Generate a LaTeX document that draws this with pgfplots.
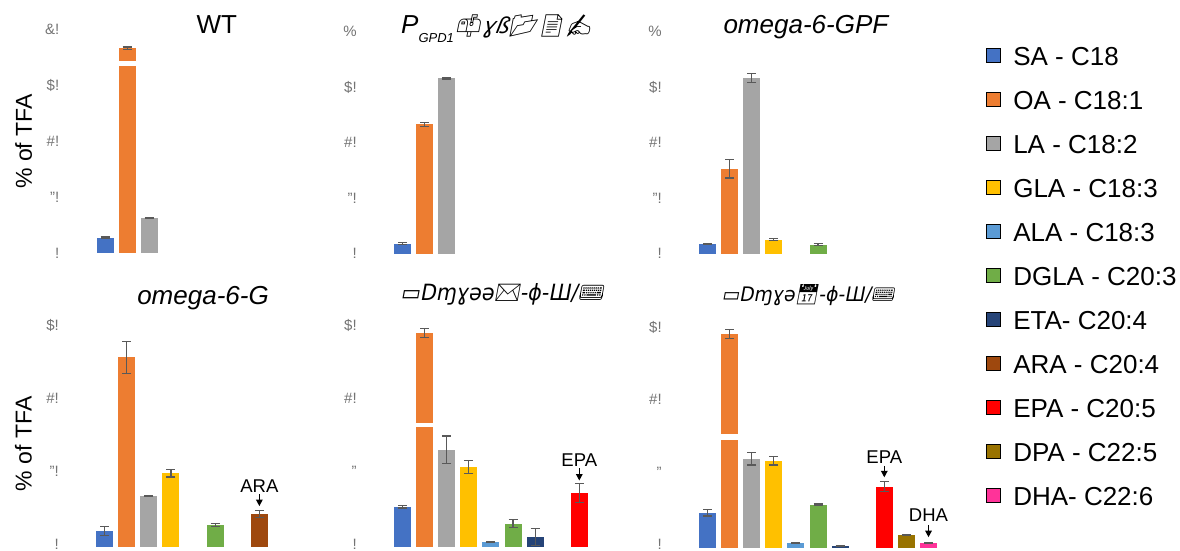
\documentclass[border=0pt]{standalone}
\usepackage{fontspec}
\setmainfont{Liberation Sans}
\newfontfamily\emo[FakeSlant=0.2]{Noto Emoji}
\newfontfamily\dvs[FakeSlant=0.2]{DejaVu Sans}
\usepackage{graphicx}
\usepackage{pgfplots}
\pgfplotsset{compat=1.18}
\usetikzlibrary{arrows.meta}
\definecolor{cSA}{HTML}{4472C4}
\definecolor{cOA}{HTML}{ED7D31}
\definecolor{cLA}{HTML}{A5A5A5}
\definecolor{cGLA}{HTML}{FFC000}
\definecolor{cALA}{HTML}{5B9BD5}
\definecolor{cDGLA}{HTML}{70AD47}
\definecolor{cETA}{HTML}{264478}
\definecolor{cARA}{HTML}{9E480E}
\definecolor{cEPA}{HTML}{FF0000}
\definecolor{cDPA}{HTML}{997300}
\definecolor{cDHA}{HTML}{FF3399}
\definecolor{tickgray}{HTML}{737373}
\definecolor{errgray}{HTML}{595959}
\pgfplotsset{
  panel/.style={scale only axis, width=265.2pt, xmin=-1.5, xmax=10.5, ymin=0,
    xtick=\empty, axis lines=left, axis line style={draw=none,-},
    tick style={draw=none}, clip=false,
    yticklabel style={font=\fontsize{15}{17}\selectfont, text=tickgray, xshift=-7pt},
    title style={font=\fontsize{26}{30}\selectfont, anchor=base, inner sep=0pt},
    ylabel style={font=\fontsize{23}{27}\selectfont, anchor=center}},
  fa/.style={ybar, bar width=17pt, bar shift=0pt, fill=#1, draw=none, forget plot,
    error bars/y dir=both, error bars/y explicit,
    error bars/error bar style={line width=1.2pt, draw=errgray},
    error bars/error mark options={rotate=90, line width=1.2pt, draw=errgray, mark size=4.5pt}},
}
\tikzset{arr/.style={-{Triangle[length=6.5pt,width=6.5pt]}, line width=1.3pt, black},
  anno/.style={font=\fontsize{18.5}{20}\selectfont, inner sep=0pt, anchor=base}}
\newcommand{\fa}[4]{\addplot[fa=#1] coordinates {(#2,#3) +- (0,#4)};}
\begin{document}
\begin{tikzpicture}
\useasboundingbox (0pt,0pt) rectangle (1180pt,550pt);
% ---------- Panel 1: WT
\begin{axis}[panel, at={(71.85pt,297pt)}, anchor=south west, height=224pt, ymax=40,
  ytick={0,10,20,30,40}, yticklabels={{!},{\symbol{34}!},{\#!},{\$!},{\&!}},
  title={WT}, title style={at={(axis description cs:0.547,0.954)}},
  ylabel={\% of TFA}, ylabel style={at={(axis description cs:-0.182,0.498)}}]
\fa{cSA}{0}{2.7}{0.15}
\fa{cOA}{1}{36.6}{0.2}
\fa{cLA}{2}{6.25}{0.15}
\fill[white] (axis cs:0.4,33.4) rectangle (axis cs:1.6,34.3);
\end{axis}
% ---------- Panel 2
\begin{axis}[panel, at={(369.35pt,296.5pt)}, anchor=south west, height=222pt, ymax=40,
  ytick={0,10,20,30,40}, yticklabels={{!},{\symbol{34}!},{\#!},{\$!},{\%}},
  title={\itshape P\raisebox{-9pt}{\fontsize{13}{13}\selectfont GPD1}{\fontsize{22}{24}\selectfont\emo 📫}{\fontsize{22}{24}\selectfont\dvs ɣß}{\fontsize{22}{24}\selectfont\emo 📂📄✍}},
  title style={at={(axis description cs:0.481,0.965)}}]
\fa{cSA}{0}{1.8}{0.15}
\fa{cOA}{1}{23.3}{0.35}
\fa{cLA}{2}{31.6}{0.15}
\end{axis}
% ---------- Panel 3
\begin{axis}[panel, at={(674.35pt,296.5pt)}, anchor=south west, height=222pt, ymax=40,
  ytick={0,10,20,30,40}, yticklabels={{!},{\symbol{34}!},{\#!},{\$!},{\%}},
  title={\itshape omega-6-GPF}, title style={at={(axis description cs:0.496,0.965)}},
  legend style={at={(axis description cs:1.175,0.935)}, anchor=north west, draw=none, fill=none,
    inner sep=0pt, row sep=25pt, column sep=12.7pt, font=\fontsize{26}{30}\selectfont,
    nodes={inner sep=0pt, text height=19pt, text depth=0pt}},
  legend cell align=left,
  legend image code/.code={\fill[#1] (0pt,-7pt) rectangle (14pt,7pt);}]
\fa{cSA}{0}{1.7}{0.1}
\fa{cOA}{1}{15.3}{1.7}
\fa{cLA}{2}{31.6}{0.8}
\fa{cGLA}{3}{2.5}{0.15}
\fa{cDGLA}{5}{1.6}{0.15}
\addlegendimage{fill=cSA}\addlegendentry{SA - C18}
\addlegendimage{fill=cOA}\addlegendentry{OA - C18:1}
\addlegendimage{fill=cLA}\addlegendentry{LA - C18:2}
\addlegendimage{fill=cGLA}\addlegendentry{GLA - C18:3}
\addlegendimage{fill=cALA}\addlegendentry{ALA - C18:3}
\addlegendimage{fill=cDGLA}\addlegendentry{DGLA - C20:3}
\addlegendimage{fill=cETA}\addlegendentry{ETA- C20:4}
\addlegendimage{fill=cARA}\addlegendentry{ARA - C20:4}
\addlegendimage{fill=cEPA}\addlegendentry{EPA - C20:5}
\addlegendimage{fill=cDPA}\addlegendentry{DPA - C22:5}
\addlegendimage{fill=cDHA}\addlegendentry{DHA- C22:6}
\end{axis}
% ---------- Panel 4
\begin{axis}[panel, at={(71.5pt,3pt)}, anchor=south west, height=226.3pt, ymax=31,
  ytick={0,10,20,30}, yticklabels={{!},{\symbol{34}!},{\#!},{\$!}},
  yticklabel style={yshift=3pt},
  title={\itshape omega-6-G}, title style={at={(axis description cs:0.496,1.043)}},
  ylabel={\% of TFA}, ylabel style={at={(axis description cs:-0.181,0.456)}}]
\fa{cSA}{0}{2.2}{0.6}
\fa{cOA}{1}{26.0}{2.2}
\fa{cLA}{2}{7.0}{0.1}
\fa{cGLA}{3}{10.1}{0.5}
\fa{cDGLA}{5}{3.0}{0.2}
\fa{cARA}{7}{4.5}{0.5}
\draw[arr] (axis cs:7,7.2) -- (axis cs:7,5.6);
\node[anno] at (axis cs:7,7.4) {ARA};
\end{axis}
% ---------- Panel 5
\begin{axis}[panel, at={(369.35pt,3pt)}, anchor=south west, height=226.3pt, ymax=31,
  ytick={0,10,20,30}, yticklabels={{!},{\symbol{34}},{\#!},{\$!}},
  yticklabel style={yshift=3pt},
  title={\resizebox{203pt}{17pt}{{\fontsize{21}{24}\selectfont\dvs ▭Dɱɣəə}{\fontsize{21}{24}\selectfont\emo ✉}{\fontsize{21}{24}\selectfont\dvs -ɸ-Ш/}{\fontsize{21}{24}\selectfont\emo ⌨}}},
  title style={at={(axis description cs:0.50,1.061)}}]
\fa{cSA}{0}{5.5}{0.15}
\fa{cOA}{1}{29.3}{0.6}
\fa{cLA}{2}{13.3}{1.9}
\fa{cGLA}{3}{11.0}{0.9}
\fa{cALA}{4}{0.7}{0.1}
\fa{cDGLA}{5}{3.2}{0.55}
\fa{cETA}{6}{1.4}{1.15}
\fa{cEPA}{8}{7.4}{1.3}
\fill[white] (axis cs:0.4,16.4) rectangle (axis cs:1.6,17.0);
\draw[arr] (axis cs:8,10.8) -- (axis cs:8,9.1);
\node[anno] at (axis cs:8,11.0) {EPA};
\end{axis}
% ---------- Panel 6
\begin{axis}[panel, at={(674.35pt,2pt)}, anchor=south west, height=223.5pt, ymax=31,
  ytick={0,10,20,30}, yticklabels={{!},{\symbol{34}},{\#!},{\$!}},
  yticklabel style={yshift=4pt},
  title={\resizebox{173pt}{17pt}{{\fontsize{19}{24}\selectfont\dvs ▭Dɱɣə}{\fontsize{19}{24}\selectfont\emo 📅}{\fontsize{19}{24}\selectfont\dvs -ɸ-Ш/}{\fontsize{19}{24}\selectfont\emo ⌨}}},
  title style={at={(axis description cs:0.504,1.074)}}]
\fa{cSA}{0}{4.9}{0.45}
\fa{cOA}{1}{29.7}{0.6}
\fa{cLA}{2}{12.4}{0.9}
\fa{cGLA}{3}{12.1}{0.6}
\fa{cALA}{4}{0.7}{0.05}
\fa{cDGLA}{5}{6.0}{0.1}
\fa{cETA}{6}{0.3}{0.05}
\fa{cEPA}{8}{8.5}{0.7}
\fa{cDPA}{9}{1.8}{0.1}
\fa{cDHA}{10}{0.7}{0.1}
\fill[white] (axis cs:0.4,15.0) rectangle (axis cs:1.6,15.8);
\draw[arr] (axis cs:8,11.4) -- (axis cs:8,9.8);
\node[anno] at (axis cs:8,11.75) {EPA};
\draw[arr] (axis cs:10,3.2) -- (axis cs:10,1.5);
\node[anno] at (axis cs:10,3.65) {DHA};
\end{axis}
\end{tikzpicture}
\end{document}
